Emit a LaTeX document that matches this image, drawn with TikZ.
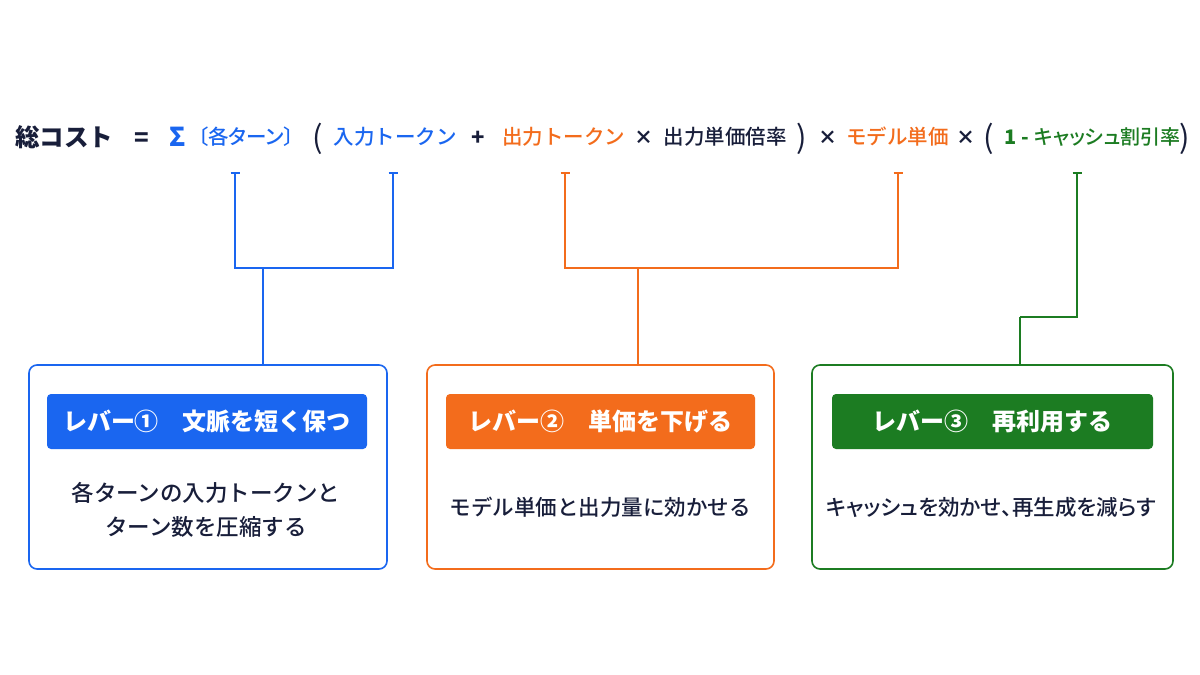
\documentclass[tikz,border=0pt]{standalone}
\usepackage{fontspec}
\setmainfont{Noto Sans CJK JP}
\newfontfamily\jpmed{Noto Sans CJK JP Medium}
\newfontfamily\jpmedpalt[RawFeature=+palt]{Noto Sans CJK JP Medium}
\usetikzlibrary{arrows.meta}
\definecolor{cblue}{RGB}{26,102,240}
\definecolor{corange}{RGB}{243,108,28}
\definecolor{cgreen}{RGB}{28,124,34}
\definecolor{cdark}{RGB}{24,30,58}
\newcommand{\fs}[1]{\fontsize{#1}{#1}\selectfont}
\begin{document}
\begin{tikzpicture}[x=1pt,y=-1pt,
  ft/.style={inner sep=0pt, anchor=base},
  lvbox/.style={draw=#1, line width=1.6pt, rounded corners=8pt, minimum height=204pt, inner sep=0pt, fill=white},
  lvhead/.style={fill=#1, rounded corners=4pt, minimum height=55pt, inner sep=0pt, text=white, font=\fs{24}\bfseries},
  lvbody/.style={inner sep=0pt, text=cdark, align=center},
  link/.style={draw=#1, line width=1.6pt, line join=miter},
  tick/.style={{Bar[width=9pt,line width=2.4pt]}-}
]
\useasboundingbox (0,0) rectangle (1200,675);
\fill[white] (0,0) rectangle (1200,675);

% formula
\node[ft, text=cdark, font=\fs{24.5}\bfseries] (total) at (64.5,146) {総コスト};
\node[ft, text=cdark, font=\fs{24}\bfseries] (eq) at (142,146) {=};
\node[ft, text=cblue, font=\fs{26}\bfseries] (sigma) at (178,146) {Σ};
\node[ft, text=cblue, font=\jpmedpalt\fs{20.5}] (turn) at (246,144.5) {〔各ターン〕};
\node[ft, text=cdark, font=\fs{31}] (lp1) at (317.5,148) {(};
\node[ft, text=cblue, font=\jpmed\fs{20.5}] (inp) at (395,144) {入力トークン};
\node[ft, text=cdark, font=\fs{22}\bfseries] (plus) at (478.5,145) {+};
\node[ft, text=corange, font=\jpmed\fs{20.5}] (outp) at (563.5,144) {出力トークン};
\node[ft, text=cdark, font=\fs{19}\bfseries] (x1) at (644,144) {×};
\node[ft, text=cdark, font=\jpmed\fs{20.5}] (rate) at (725,144) {出力単価倍率};
\node[ft, text=cdark, font=\fs{31}] (rp1) at (801.5,148) {)};
\node[ft, text=cdark, font=\fs{19}\bfseries] (x2) at (827.5,144) {×};
\node[ft, text=corange, font=\jpmed\fs{20.5}] (model) at (897.5,144) {モデル単価};
\node[ft, text=cdark, font=\fs{19}\bfseries] (x3) at (966,144) {×};
\node[ft, text=cdark, font=\fs{31}] (lp2) at (988.5,148) {(};
\node[ft, text=cgreen, font=\fs{20}\bfseries] (one) at (1017,144) {1 -};
\node[ft, text=cgreen, font=\jpmedpalt\fs{20}] (cache) at (1107.5,144) {キャッシュ割引率};
\node[ft, text=cdark, font=\fs{31}] (rp2) at (1185,148) {)};

% boxes
\node[lvbox=cblue, minimum width=358pt] (box1) at (208,467) {};
\node[lvbox=corange, minimum width=347pt] (box2) at (600.5,467) {};
\node[lvbox=cgreen, minimum width=361pt] (box3) at (992.5,467) {};

\node[lvhead=cblue, minimum width=320pt] (h1) at (207,421.5) {レバー①　文脈を短く保つ};
\node[lvhead=corange, minimum width=309pt] (h2) at (600.5,421.5) {レバー②　単価を下げる};
\node[lvhead=cgreen, minimum width=321pt] (h3) at (992.5,421.5) {レバー③　再利用する};

\node[lvbody, font=\jpmed\fs{22.5}, text width=340pt] (b1) at (206,510)
  {各ターンの入力トークンと\\[11pt]ターン数を圧縮する};
\node[lvbody, font=\jpmed\fs{21.5}] (b2) at (600,507) {モデル単価と出力量に効かせる};
\node[lvbody, font=\jpmedpalt\fs{21.5}] (b3) at (991,507) {キャッシュを効かせ、再生成を減らす};

% connectors
\coordinate (t1) at (235,172);
\coordinate (t2) at (393,172);
\coordinate (t3) at (565,172);
\coordinate (t4) at (898,172);
\coordinate (t5) at (1077,172);
\coordinate (j1) at (263,268);
\coordinate (j2) at (638,268);
\coordinate (g1) at (1020,317);

\draw[link=cblue, tick] (t1) |- (j1);
\draw[link=cblue, tick] (t2) |- (j1);
\draw[link=cblue] (j1) -- (j1 |- box1.north);
\draw[link=corange, tick] (t3) |- (j2);
\draw[link=corange, tick] (t4) |- (j2);
\draw[link=corange] (j2) -- (j2 |- box2.north);
\draw[link=cgreen, tick] (t5) |- (g1);
\draw[link=cgreen] (g1) -- (g1 |- box3.north);
\end{tikzpicture}
\end{document}
